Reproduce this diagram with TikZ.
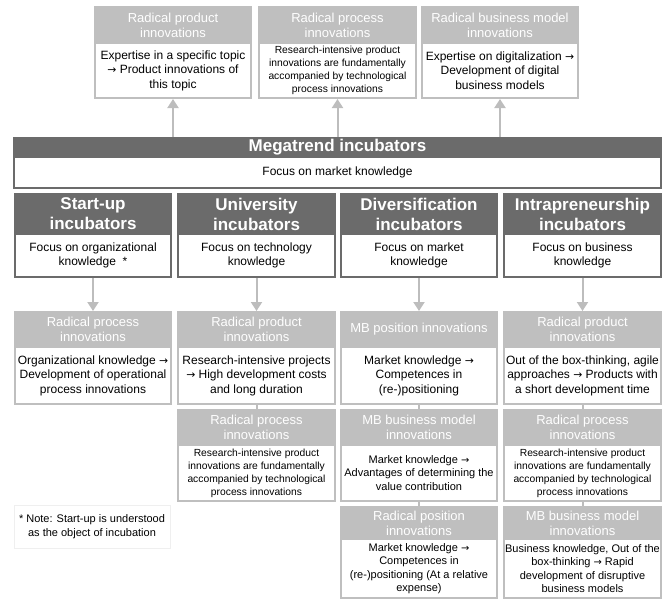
\documentclass[tikz,border=0pt]{standalone}
\usepackage{fontspec}
\setmainfont{Liberation Sans}
\newfontfamily\arrowfont[Scale=0.9]{DejaVu Sans}
\usetikzlibrary{arrows.meta}

\definecolor{lightfill}{HTML}{BFBFBF}
\definecolor{darkfill}{HTML}{6B6B6B}
\definecolor{linkgray}{HTML}{BDBDBD}
\definecolor{notegray}{HTML}{EFEFEF}

\newcommand{\fs}[2]{\fontsize{#1}{#2}\selectfont}
\newcommand{\ra}{{\arrowfont →}}
% body text sizes
\newcommand{\bodyL}{\fs{12}{14.5}}
\newcommand{\bodyM}{\fs{11}{13.5}}
\newcommand{\bodyS}{\fs{10.3}{13}}

\tikzset{
  plainbox/.style={rectangle, draw=none, inner sep=0pt, outer sep=0pt},
  lightframe/.style={plainbox, fill=lightfill},
  darkframe/.style={plainbox, fill=darkfill},
  lighthead/.style={plainbox, align=center, text=white, font=\fs{13}{15}},
  darkhead/.style={plainbox, align=center, text=white, font=\bfseries\fs{17}{20}},
  bodyarea/.style={plainbox, fill=white, align=center, text=black},
  link/.style={draw=linkgray, line width=2pt},
  arrowlink/.style={link, -{Triangle[width=11pt,length=9pt]}},
}

% white body of a panel: #1 font, #2 text
\newcommand{\paneltext}[2]{%
  \node[bodyarea, minimum width=\bw pt, minimum height=\bh pt, font=#1]
    (\pname-body) at (\pcx,\by) {#2};}

% #1 kind (light/dark), #2 name, #3 left, #4 top, #5 right, #6 bottom,
% #7 header/body split, #8 header text, #9 {body font}{body text}
\newcommand{\panel}[9]{%
  \def\pname{#2}%
  \pgfmathsetmacro\pcx{(#3+#5)/2}%
  \pgfmathsetmacro\pcy{(#4+#6)/2}%
  \pgfmathsetmacro\pw{#5-#3}%
  \pgfmathsetmacro\ph{#6-#4}%
  \pgfmathsetmacro\hy{(#4+#7)/2}%
  \pgfmathsetmacro\by{(#7+#6-2)/2}%
  \pgfmathsetmacro\bw{#5-#3-4}%
  \pgfmathsetmacro\bh{#6-#7-2}%
  \node[#1frame, minimum width=\pw pt, minimum height=\ph pt] (#2) at (\pcx,\pcy) {};
  \node[#1head] (#2-head) at (\pcx,\hy) {#8};
  \paneltext#9
}

\begin{document}
\begin{tikzpicture}[x=1pt,y=-1pt]
\useasboundingbox (0,0) rectangle (672,600);

% innovation types fed by the megatrend incubators
\panel{light}{t1}{94}{6}{252}{99}{44}{Radical product\\innovations}
  {{\bodyL}{Expertise in a specific topic\\\ra{} Product innovations of\\this topic}}
\panel{light}{t2}{258}{6}{417}{99}{44}{Radical process\\innovations}
  {{\bodyS}{Research-intensive product\\innovations are fundamentally\\accompanied by technological\\process innovations}}
\panel{light}{t3}{421}{6}{579}{99}{44}{Radical business model\\innovations}
  {{\bodyL}{Expertise on digitalization \ra\\Development of digital\\business models}}

% megatrend incubators
\panel{dark}{mega}{13}{137}{662}{189}{158}{Megatrend incubators}
  {{\bodyL}{Focus on market knowledge}}

% the four incubator types
\panel{dark}{inc1}{14}{193}{172}{278}{235}{Start-up\\incubators}
  {{\bodyL}{Focus on organizational\\knowledge~~*}}
\panel{dark}{inc2}{177}{193}{336}{278}{235}{University\\incubators}
  {{\bodyL}{Focus on technology\\knowledge}}
\panel{dark}{inc3}{340}{193}{498}{278}{235}{Diversification\\incubators}
  {{\bodyL}{Focus on market\\knowledge}}
\panel{dark}{inc4}{503}{193}{662}{278}{235}{Intrapreneurship\\incubators}
  {{\bodyL}{Focus on business\\knowledge}}

% column 1
\panel{light}{a1}{14}{311}{172}{405}{348}{Radical process\\innovations}
  {{\bodyL}{Organizational knowledge \ra\\Development of operational\\process innovations}}

% column 2
\panel{light}{b1}{177}{311}{336}{405}{348}{Radical product\\innovations}
  {{\bodyL}{Research-intensive projects\\\ra{} High development costs\\and long duration}}
\panel{light}{b2}{177}{409}{336}{502}{446}{Radical process\\innovations}
  {{\bodyS}{Research-intensive product\\innovations are fundamentally\\accompanied by technological\\process innovations}}

% column 3
\panel{light}{c1}{340}{311}{498}{405}{348}{MB position innovations}
  {{\bodyL}{Market knowledge \ra\\Competences in\\(re-)positioning}}
\panel{light}{c2}{340}{409}{498}{502}{446}{MB business model\\innovations}
  {{\bodyM}{Market knowledge \ra\\Advantages of determining the\\value contribution}}
\panel{light}{c3}{340}{506}{498}{599}{540}{Radical position\\innovations}
  {{\bodyM}{Market knowledge \ra\\Competences in\\(re-)positioning (At a relative\\expense)}}

% column 4
\panel{light}{d1}{503}{311}{662}{405}{348}{Radical product\\innovations}
  {{\bodyL}{Out of the box-thinking, agile\\approaches \ra{} Products with\\a short development time}}
\panel{light}{d2}{503}{409}{662}{502}{446}{Radical process\\innovations}
  {{\bodyS}{Research-intensive product\\innovations are fundamentally\\accompanied by technological\\process innovations}}
\panel{light}{d3}{503}{506}{662}{599}{540}{MB business model\\innovations}
  {{\bodyM}{Business knowledge, Out of the\\box-thinking \ra{} Rapid\\development of disruptive\\business models}}

% footnote
\node[plainbox, draw=notegray, minimum width=156pt, minimum height=43pt,
      align=center, font=\fs{11}{14}] (note) at (92,526.5)
  {* Note: Start-up is understood\\as the object of incubation};

% arrows up to the innovation types
\draw[arrowlink] (mega.north -| t1.south) -- (t1.south);
\draw[arrowlink] (mega.north -| t2.south) -- (t2.south);
\draw[arrowlink] (mega.north -| t3.south) -- (t3.south);

% arrows down from the incubators
\draw[arrowlink] (inc1.south) -- (a1.north);
\draw[arrowlink] (inc2.south) -- (b1.north);
\draw[arrowlink] (inc3.south) -- (c1.north);
\draw[arrowlink] (inc4.south) -- (d1.north);

% links between stacked boxes
\draw[link] (b1.south) -- (b2.north);
\draw[link] (c1.south) -- (c2.north);
\draw[link] (c2.south) -- (c3.north);
\draw[link] (d1.south) -- (d2.north);
\draw[link] (d2.south) -- (d3.north);
\end{tikzpicture}
\end{document}
